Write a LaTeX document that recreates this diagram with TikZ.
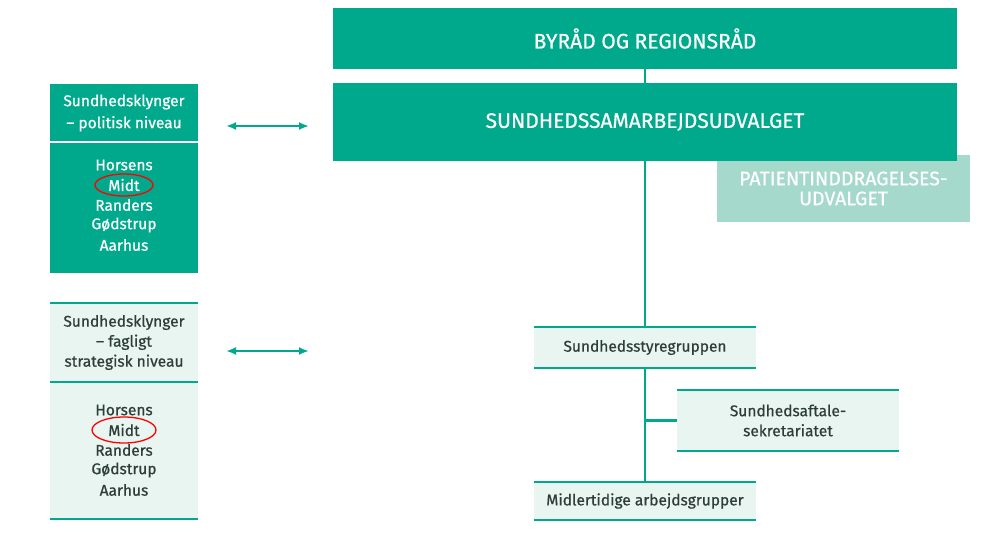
\documentclass[tikz,border=0pt]{standalone}
\usepackage{fontspec}
\setmainfont{Fira Sans}[FakeBold=0.6]
\usetikzlibrary{arrows.meta}
\definecolor{sgreen}{HTML}{00A98C}
\definecolor{slight}{HTML}{E8F5F0}
\definecolor{spale}{HTML}{A5D9CB}
\definecolor{stext}{HTML}{2E3D38}
\tikzset{
	darkbox/.style={fill=sgreen,text=white,align=center,inner sep=0pt,font=\fontsize{21}{24}\selectfont},
	lightbox/.style={fill=slight,text=stext,align=center,inner sep=0pt,font=\fontsize{15.5}{20}\selectfont},
	paleBox/.style={fill=spale,text=white,align=center,inner sep=0pt,font=\fontsize{19.5}{20}\selectfont},
	listtxt/.style={inner sep=0pt,font=\fontsize{15.5}{20}\selectfont},
	tealline/.style={draw=sgreen,line width=2.2pt},
	link/.style={draw=sgreen,line width=2.2pt},
	twoway/.style={draw=sgreen,line width=2.2pt,{Latex[length=10pt,width=8pt]}-{Latex[length=10pt,width=8pt]}},
	mark circle/.style={draw=red,line width=1.3pt}
}
\begin{document}
\begin{tikzpicture}[x=1pt,y=-1pt]
		\useasboundingbox[fill=white] (0,0) rectangle (992,544);
		% right column
		\node[paleBox,minimum width=253,minimum height=67] (pat) at (843.5,188.5) {PATIENTINDDRAGELSES-\\UDVALGET};
		\node[darkbox,minimum width=624,minimum height=61] (byr) at (645,38.5) {BYRÅD OG REGIONSRÅD};
		\node[darkbox,minimum width=624,minimum height=78] (sam) at (645,122) {SUNDHEDSSAMARBEJDSUDVALGET};
		\node[lightbox,minimum width=222,minimum height=41] (sty) at (645,347.5) {Sundhedsstyregruppen};
		\node[lightbox,minimum width=222,minimum height=61] (sek) at (788,420.5) {Sundhedsaftale-\\sekretariatet};
		\node[lightbox,minimum width=222,minimum height=38] (mid) at (645,501) {Midlertidige arbejdsgrupper};
		\coordinate (knee) at (645,420.5);
		\draw[link] (byr) -- (sam);
		\draw[link] (sam) -- (sty);
		\draw[link] (sty) -- (mid);
		\draw[link] (knee) -- (sek.west);
		% left column
		\node[darkbox,font=\fontsize{15.5}{22}\selectfont,minimum width=148,minimum height=58] (polhead) at (124,113) {Sundhedsklynger\\– politisk niveau};
		\node[darkbox,minimum width=148,minimum height=131] (pollist) at (124,207.5) {};
		\draw[white,line width=2pt] (polhead.south west) -- (polhead.south east);
		\node[lightbox,minimum width=148,minimum height=79] (faghead) at (124,342.5) {Sundhedsklynger\\– fagligt\\strategisk niveau};
		\node[lightbox,minimum width=148,minimum height=137] (faglist) at (124,450.5) {};
		\foreach \name [count=\i] in {Horsens,Midt,Randers,Gødstrup,Aarhus} {
			\node[listtxt,text=white] (pl\i) at (124,145+20*\i) {\name};
			\node[listtxt,text=stext] (fl\i) at (124,390+20*\i) {\name};
		}
		\foreach \n in {sty,sek,mid,faghead,faglist}
			\draw[tealline] (\n.north west) -- (\n.north east) (\n.south west) -- (\n.south east);
		\draw[mark circle] (pl2) ellipse (29 and 11);
		\draw[mark circle] (fl2) ellipse (32 and 13);
		% arrows
		\coordinate (pa) at (226,126);
		\coordinate (pb) at (309,126);
		\coordinate (fa) at (226,351);
		\coordinate (fb) at (309,351);
		\draw[twoway] (pa) -- (pb);
		\draw[twoway] (fa) -- (fb);
\end{tikzpicture}
\end{document}
